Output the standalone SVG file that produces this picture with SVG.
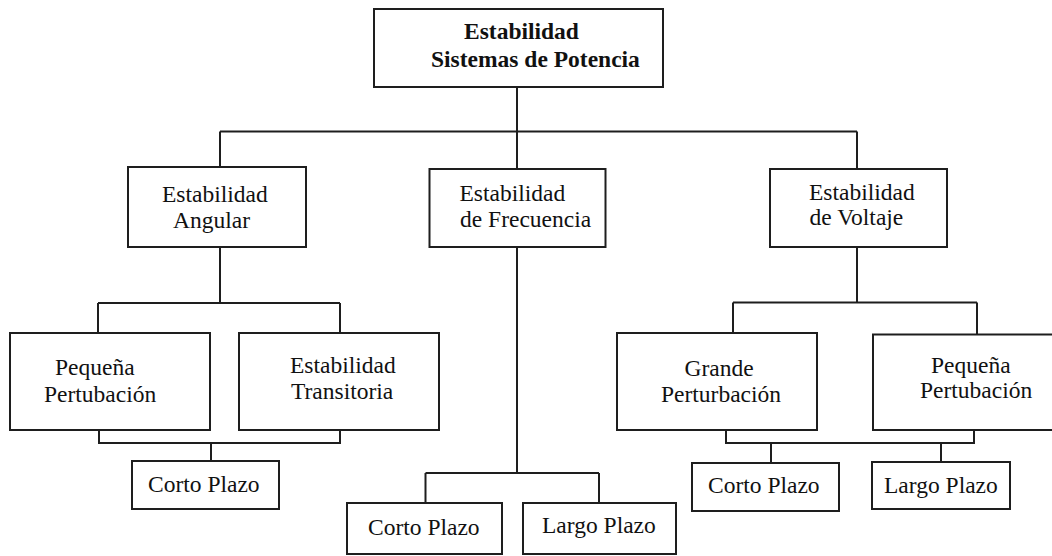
<svg xmlns="http://www.w3.org/2000/svg" width="1052" height="556" viewBox="0 0 1052 556">
  <style>
    .box { fill: #ffffff; stroke: #1e1e1e; stroke-width: 2; }
    .wire { fill: none; stroke: #1e1e1e; stroke-width: 2; }
    .lbl { font-family: "Liberation Serif", "Times New Roman", serif; font-size: 23.5px; fill: #111111; }
    .bold { font-weight: bold; }
  </style>
  <rect width="1052" height="556" fill="#ffffff"/>

  <!-- tree connectors -->
  <g id="connectors" class="wire">
    <path d="M517 87 V131.5 M220 131.5 H857 M220 131.5 V167 M517 131.5 V169 M857 131.5 V169"/>
    <path d="M220 247 V303 M98 303 H340 M98 303 V333 M340 303 V333"/>
    <path d="M99 430 V443 H340 V430 M211 443 V461"/>
    <path d="M517 247 V473 M425.5 473 H599 M425.5 473 V503 M599 473 V503"/>
    <path d="M857 247 V302.5 M733 302.5 H977 M733 302.5 V333 M977 302.5 V334.5"/>
    <path d="M726 430 V443 H974 V430 M771 443 V463 M941 443 V462"/>
  </g>

  <g id="root">
    <rect class="box" x="374" y="9" width="289" height="78"/>
    <text class="lbl bold" x="464" y="39">Estabilidad</text>
    <text class="lbl bold" x="431" y="67">Sistemas de Potencia</text>
  </g>

  <g id="angular">
    <rect class="box" x="128" y="167" width="178" height="80"/>
    <text class="lbl" x="162" y="202">Estabilidad</text>
    <text class="lbl" x="173" y="228">Angular</text>
  </g>

  <g id="frecuencia">
    <rect class="box" x="429.5" y="169" width="176" height="78"/>
    <text class="lbl" x="459.5" y="201">Estabilidad</text>
    <text class="lbl" x="460" y="227">de Frecuencia</text>
  </g>

  <g id="voltaje">
    <rect class="box" x="770" y="169" width="177" height="78"/>
    <text class="lbl" x="809" y="200">Estabilidad</text>
    <text class="lbl" x="809.5" y="225">de Voltaje</text>
  </g>

  <g id="angular-pequena">
    <rect class="box" x="10" y="333" width="200" height="97"/>
    <text class="lbl" x="55" y="375">Pequeña</text>
    <text class="lbl" x="44" y="401.5">Pertubación</text>
  </g>

  <g id="angular-transitoria">
    <rect class="box" x="239" y="333" width="200" height="97"/>
    <text class="lbl" x="290" y="373">Estabilidad</text>
    <text class="lbl" x="291" y="399">Transitoria</text>
  </g>

  <g id="angular-corto">
    <rect class="box" x="132" y="461" width="147" height="48"/>
    <text class="lbl" x="148" y="492">Corto Plazo</text>
  </g>

  <g id="frecuencia-corto">
    <rect class="box" x="347" y="503" width="155" height="51"/>
    <text class="lbl" x="368" y="535">Corto Plazo</text>
  </g>

  <g id="frecuencia-largo">
    <rect class="box" x="523" y="503" width="153" height="51"/>
    <text class="lbl" x="542" y="533">Largo Plazo</text>
  </g>

  <g id="voltaje-grande">
    <rect class="box" x="617" y="333" width="200" height="97"/>
    <text class="lbl" x="684.5" y="376">Grande</text>
    <text class="lbl" x="661" y="401.5">Perturbación</text>
  </g>

  <g id="voltaje-pequena">
    <rect class="box" x="873" y="334.5" width="190" height="95.5"/>
    <text class="lbl" x="931" y="372.5">Pequeña</text>
    <text class="lbl" x="920" y="398">Pertubación</text>
  </g>

  <g id="voltaje-corto">
    <rect class="box" x="692" y="463" width="147" height="48"/>
    <text class="lbl" x="708" y="493">Corto Plazo</text>
  </g>

  <g id="voltaje-largo">
    <rect class="box" x="872" y="462" width="138" height="47"/>
    <text class="lbl" x="884" y="492.5">Largo Plazo</text>
  </g>
</svg>
